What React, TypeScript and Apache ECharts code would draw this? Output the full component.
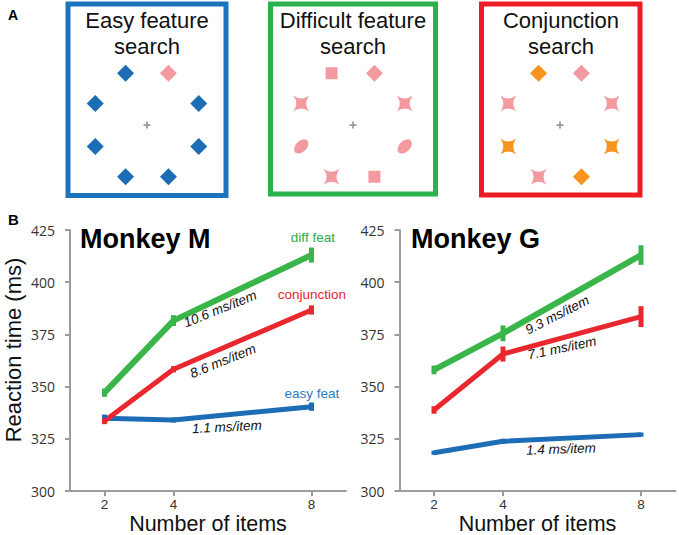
import React, { useEffect, useRef } from 'react';
import * as echarts from 'echarts';

// ---------- Data ----------
const SET_SIZES = [2, 4, 8];
const CONDITIONS = ['easy feat', 'diff feat', 'conjunction'];

const M_EASY = [334.8, 334.0, 340.4];
const M_EASY_ERR = [1.8, 1.2, 2.0];
const M_DIFF = [347.1, 381.6, 413.0];
const M_DIFF_ERR = [2.0, 2.6, 3.6];
const M_CONJ = [333.5, 358.3, 386.7];
const M_CONJ_ERR = [1.5, 1.5, 2.2];

const G_EASY = [318.3, 323.8, 327.0];
const G_EASY_ERR = [1.0, 1.2, 1.0];
const G_DIFF = [358.0, 375.5, 413.0];
const G_DIFF_ERR = [2.1, 3.8, 4.7];
const G_CONJ = [338.8, 365.6, 383.5];
const G_CONJ_ERR = [1.8, 3.6, 5.0];

const M_SLOPES = ['1.1 ms/item', '10.6 ms/item', '8.6 ms/item'];
const G_SLOPES = ['1.4 ms/item', '9.3 ms/item', '7.1 ms/item'];

const Y_MIN = 300;
const Y_MAX = 425;
const Y_STEP = 25;

// Panel A: slots around fixation (angles, deg): TL, TR, upper-L, upper-R, lower-L, lower-R, BL, BR
const SLOT_ANGLES = [112.5, 67.5, 157.5, 22.5, 202.5, 337.5, 247.5, 292.5];
const EASY_SHAPES = ['diamond', 'diamond', 'diamond', 'diamond', 'diamond', 'diamond', 'diamond', 'diamond'];
const EASY_COLORS = ['blue', 'pink', 'blue', 'blue', 'blue', 'blue', 'blue', 'blue'];
const DIFF_SHAPES = ['square', 'diamond', 'star', 'star', 'ellipse', 'ellipse', 'star', 'square'];
const DIFF_COLORS = ['pink', 'pink', 'pink', 'pink', 'pink', 'pink', 'pink', 'pink'];
const CONJ_SHAPES = ['diamond', 'diamond', 'star', 'star', 'star', 'star', 'star', 'diamond'];
const CONJ_COLORS = ['orange', 'pink', 'pink', 'pink', 'orange', 'orange', 'pink', 'orange'];
const PANEL_TITLES = ['Easy feature\nsearch', 'Difficult feature\nsearch', 'Conjunction\nsearch'];

// ---------- Styles ----------
const BLUE = '#1c6db5';
const GREEN = '#3ab54a';
const RED = '#e8282e';
const PINK = '#f39aa0';
const ORANGE = '#f7941d';
const AXIS_GRAY = '#9c9c9c';
const FONT = 'Liberation Sans, Arial, sans-serif';
const TICK_FONT = 'Open Sans, Liberation Sans, sans-serif';

const SHAPE_COLOR: Record<string, string> = { blue: BLUE, pink: PINK, orange: ORANGE };
const STAR = 'path://M0,0 Q5,3.8 10,0 Q6.2,5 10,10 Q5,6.2 0,10 Q3.8,5 0,0 Z';
const ELLIPSE = 'path://M0,5 A8,5 0 1,0 16,5 A8,5 0 1,0 0,5 Z';
const PLUS = 'path://M3,0H5V3H8V5H5V8H3V5H0V3H3Z';

function shapeStyle(shape: string) {
  switch (shape) {
    case 'diamond':
      return { symbol: 'diamond', symbolSize: 17, symbolRotate: 0 };
    case 'square':
      return { symbol: 'rect', symbolSize: 12, symbolRotate: 0 };
    case 'star':
      return { symbol: STAR, symbolSize: 16, symbolRotate: 0 };
    case 'ellipse':
      return { symbol: ELLIPSE, symbolSize: [17, 11], symbolRotate: 45 };
    default:
      return { symbol: 'circle', symbolSize: 10, symbolRotate: 0 };
  }
}

function displaySeries(polarIndex: number, shapes: string[], colors: string[]) {
  const data: any[] = SLOT_ANGLES.map((a, i) => {
    const s = shapeStyle(shapes[i]);
    return {
      value: [1, a],
      symbol: s.symbol,
      symbolSize: s.symbolSize,
      symbolRotate: s.symbolRotate,
      itemStyle: { color: SHAPE_COLOR[colors[i]], opacity: 1 },
    };
  });
  data.push({
    value: [0, 0],
    symbol: PLUS,
    symbolSize: 7,
    symbolRotate: 0,
    itemStyle: { color: '#9a9a9a', opacity: 1 },
  });
  return {
    type: 'scatter',
    coordinateSystem: 'polar',
    polarIndex,
    silent: true,
    itemStyle: { opacity: 1 },
    data,
  };
}

function lineSeries(grid: number, vals: number[], color: string, width: number) {
  return {
    type: 'line',
    xAxisIndex: grid,
    yAxisIndex: grid,
    data: SET_SIZES.map((s, i) => [s, vals[i]]),
    symbol: 'none',
    lineStyle: { color, width },
    itemStyle: { color },
    silent: true,
    z: 3,
  };
}

function errSeries(grid: number, vals: number[], errs: number[], color: string) {
  return {
    type: 'custom',
    xAxisIndex: grid,
    yAxisIndex: grid,
    data: SET_SIZES.map((s, i) => [s, vals[i], errs[i]]),
    encode: { x: 0, y: 1 },
    silent: true,
    z: 4,
    renderItem: (params: any, api: any) => {
      const x = api.value(0);
      const y = api.value(1);
      const e = api.value(2);
      const top = api.coord([x, y + e]);
      const bot = api.coord([x, y - e]);
      return {
        type: 'rect',
        shape: { x: top[0] - 2.5, y: top[1], width: 5, height: Math.max(bot[1] - top[1], 1) },
        style: { fill: color },
      };
    },
  };
}

function labelSeries(grid: number, items: any[]) {
  return {
    type: 'scatter',
    xAxisIndex: grid,
    yAxisIndex: grid,
    symbolSize: 1,
    itemStyle: { color: 'transparent', opacity: 1 },
    silent: true,
    z: 6,
    label: {
      show: true,
      position: 'inside',
      formatter: '{b}',
      fontFamily: FONT,
      fontSize: 13.5,
      color: '#111',
      opacity: 1,
    },
    data: items,
  };
}

function xAxisCfg(gridIndex: number) {
  return {
    gridIndex,
    type: 'value',
    min: 1,
    max: 9,
    splitLine: { show: false },
    axisLine: { show: true, lineStyle: { color: AXIS_GRAY, width: 2 } },
    axisTick: { show: true, customValues: SET_SIZES, length: 5, lineStyle: { color: AXIS_GRAY, width: 2 } },
    axisLabel: {
      customValues: SET_SIZES, margin: 6, color: '#333', fontSize: 13.5, lineHeight: 14, fontFamily: FONT,
    },
    name: 'Number of items',
    nameLocation: 'middle',
    nameGap: 22,
    nameTextStyle: { fontSize: 21.5, lineHeight: 21, color: '#111', fontFamily: FONT },
  };
}

function yAxisCfg(gridIndex: number) {
  return {
    gridIndex,
    type: 'value',
    min: Y_MIN,
    max: Y_MAX,
    interval: Y_STEP,
    splitLine: { show: false },
    axisLine: { show: true, lineStyle: { color: AXIS_GRAY, width: 2 } },
    axisTick: { show: true, length: 5, lineStyle: { color: AXIS_GRAY, width: 2 } },
    axisLabel: { margin: 15, color: '#333', fontSize: 14, fontFamily: TICK_FONT },
  };
}

function boxRect(x: number, y: number, w: number, h: number, color: string) {
  return {
    type: 'rect',
    shape: { x, y, width: w, height: h },
    style: { fill: 'none', stroke: color, lineWidth: 5 },
    silent: true,
  };
}

function txt(text: string, x: number, y: number, opts: any = {}) {
  return {
    type: 'text',
    x,
    y,
    silent: true,
    style: {
      text,
      fontFamily: FONT,
      fontSize: opts.fontSize || 14,
      fontWeight: opts.fontWeight || 'normal',
      fill: opts.fill || '#111',
      align: opts.align || 'left',
      verticalAlign: opts.verticalAlign || 'middle',
      lineHeight: opts.lineHeight,
    },
    rotation: opts.rotation || 0,
  };
}

const App: React.FC = () => {
  const ref = useRef<HTMLDivElement>(null);

  useEffect(() => {
    if (!ref.current) return;
    const chart = echarts.init(ref.current, null, { renderer: 'svg' });

    const polarCenters = [[147, 125], [353, 125], [560, 125]];
    const polar = polarCenters.map((c) => ({ center: c, radius: 56 }));
    const angleAxis = polarCenters.map((_, i) => ({
      polarIndex: i, type: 'value', min: 0, max: 360, startAngle: 0, clockwise: false, show: false,
    }));
    const radiusAxis = polarCenters.map((_, i) => ({
      polarIndex: i, type: 'value', min: 0, max: 1, show: false,
    }));

    const option: any = {
      animation: false,
      backgroundColor: '#ffffff',
      polar,
      angleAxis,
      radiusAxis,
      grid: [
        { left: 70, top: 230, width: 276, height: 261, outerBoundsMode: 'none', containLabel: false },
        { left: 399.5, top: 230, width: 276, height: 261, outerBoundsMode: 'none', containLabel: false },
      ],
      xAxis: [xAxisCfg(0), xAxisCfg(1)],
      yAxis: [yAxisCfg(0), yAxisCfg(1)],
      graphic: [
        boxRect(68, 4, 158, 191.5, '#1b75bc'),
        boxRect(270.5, 4, 165, 190, '#2bb24c'),
        boxRect(481.5, 4, 158.5, 191, '#ec1c24'),
        txt(PANEL_TITLES[0], 147, 33.5, { fontSize: 22, align: 'center', lineHeight: 26 }),
        txt(PANEL_TITLES[1], 353, 33.5, { fontSize: 22, align: 'center', lineHeight: 26 }),
        txt(PANEL_TITLES[2], 561, 33.5, { fontSize: 22, align: 'center', lineHeight: 26 }),
        txt('A', 8, 15, { fontSize: 14, fontWeight: 'bold', fill: '#000' }),
        txt('B', 8, 219, { fontSize: 15, fontWeight: 'bold', fill: '#000' }),
        txt('Monkey M', 80, 239, { fontSize: 27, fontWeight: 'bold', fill: '#000' }),
        txt('Monkey G', 411, 239, { fontSize: 27, fontWeight: 'bold', fill: '#000' }),
        txt('Reaction time (ms)', 13, 350, { fontSize: 22, align: 'center', rotation: Math.PI / 2 }),
      ],
      series: [
        displaySeries(0, EASY_SHAPES, EASY_COLORS),
        displaySeries(1, DIFF_SHAPES, DIFF_COLORS),
        displaySeries(2, CONJ_SHAPES, CONJ_COLORS),

        lineSeries(0, M_EASY, BLUE, 5),
        errSeries(0, M_EASY, M_EASY_ERR, BLUE),
        lineSeries(0, M_DIFF, GREEN, 6),
        errSeries(0, M_DIFF, M_DIFF_ERR, GREEN),
        lineSeries(0, M_CONJ, RED, 5),
        errSeries(0, M_CONJ, M_CONJ_ERR, RED),

        lineSeries(1, G_EASY, BLUE, 5),
        errSeries(1, G_EASY, G_EASY_ERR, BLUE),
        lineSeries(1, G_DIFF, GREEN, 6),
        errSeries(1, G_DIFF, G_DIFF_ERR, GREEN),
        lineSeries(1, G_CONJ, RED, 5),
        errSeries(1, G_CONJ, G_CONJ_ERR, RED),

        labelSeries(0, [
          { value: [8.04, 421.2], name: CONDITIONS[1], label: { color: '#2eac4a', fontSize: 13.5 } },
          { value: [8.01, 393.9], name: CONDITIONS[2], label: { color: '#e8242b', fontSize: 13.5 } },
          { value: [8.01, 346.9], name: CONDITIONS[0], label: { color: '#2a7bbf', fontSize: 13.5 } },
          { value: [5.35, 387.2], name: M_SLOPES[1], label: { rotate: 22, fontStyle: 'italic' } },
          { value: [5.43, 362.3], name: M_SLOPES[2], label: { rotate: 22, fontStyle: 'italic' } },
          { value: [5.55, 330.7], name: M_SLOPES[0], label: { rotate: 3, fontStyle: 'italic' } },
        ]),
        labelSeries(1, [
          { value: [5.57, 384.3], name: G_SLOPES[1], label: { rotate: 27, fontStyle: 'italic' } },
          { value: [5.71, 368.5], name: G_SLOPES[2], label: { rotate: 12, fontStyle: 'italic' } },
          { value: [5.68, 320.1], name: G_SLOPES[0], label: { rotate: 2, fontStyle: 'italic' } },
        ]),
      ],
    };

    chart.setOption(option);
    return () => chart.dispose();
  }, []);

  return (
    <div
      ref={ref}
      style={{ position: 'fixed', left: 0, top: 0, width: 679, height: 535, background: '#fff' }}
    />
  );
};

export default App;
